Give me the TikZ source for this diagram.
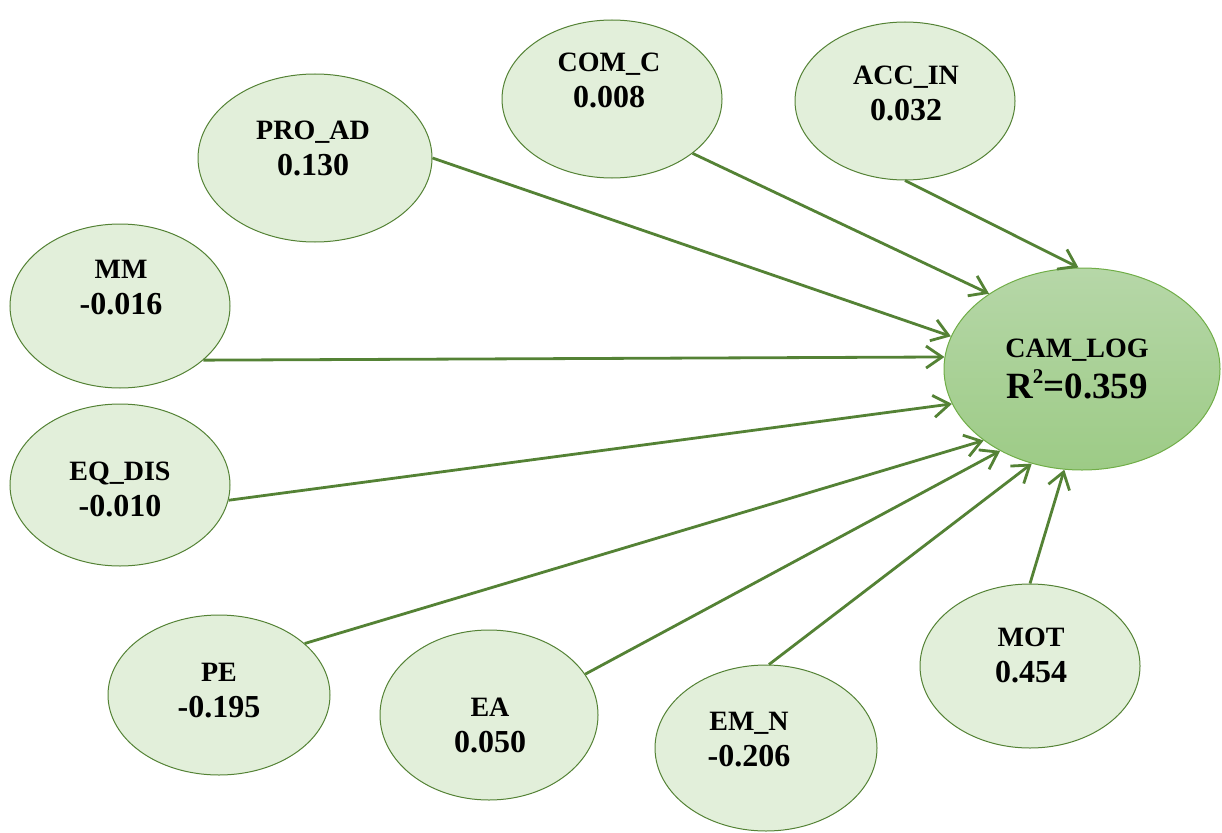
\documentclass[tikz,border=0pt]{standalone}
\usepackage{fontspec}
\setmainfont{Liberation Serif}
\usetikzlibrary{shapes.geometric,arrows.meta}
\definecolor{nodefill}{HTML}{E2EFDA}
\definecolor{nodeline}{HTML}{548235}
\definecolor{arrcol}{HTML}{548235}
\definecolor{camtop}{HTML}{B6D7A8}
\definecolor{cambot}{HTML}{9DCB86}
\definecolor{camline}{HTML}{70AD47}
\newcommand{\twolines}[2]{{\fontsize{28}{34}\selectfont #1}\\{\fontsize{32}{36}\selectfont #2}}
\begin{document}
\begin{tikzpicture}[x=1pt,y=-1pt,
  latent/.style={ellipse, draw=nodeline, line width=1pt, fill=nodefill, inner sep=0pt},
  lbl/.style={align=center, font=\fontsize{32}{36}\selectfont\bfseries, text=black, inner sep=0pt},
  conn/.style={draw=arrcol, line width=2.8pt, -{Straight Barb[length=16pt,width=22pt]}}]
\useasboundingbox (0,0) rectangle (1222,832);
% ellipses
\node[latent, minimum width=220pt, minimum height=158pt] (comc) at (612,99) {};
\node[latent, minimum width=220pt, minimum height=158pt] (accin) at (905,101) {};
\node[latent, minimum width=234pt, minimum height=168pt] (proad) at (315,158) {};
\node[latent, minimum width=220pt, minimum height=164pt] (mm) at (120,306) {};
\node[latent, minimum width=220pt, minimum height=162pt] (eqdis) at (120,485) {};
\node[latent, minimum width=222pt, minimum height=160pt] (pe) at (219,695) {};
\node[latent, minimum width=218pt, minimum height=170pt] (ea) at (489,715) {};
\node[latent, minimum width=222pt, minimum height=166pt] (emn) at (766,748) {};
\node[latent, minimum width=220pt, minimum height=164pt] (mot) at (1030,666) {};
\node[ellipse, draw=camline, line width=1pt, top color=camtop, bottom color=cambot, inner sep=0pt,
      minimum width=276pt, minimum height=202pt] (cam) at (1082,369) {};
% labels
\node[lbl] (tcomc) at (609,80) {\twolines{COM\_C}{0.008}};
\node[lbl] (taccin) at (906,93) {\twolines{ACC\_IN}{0.032}};
\node[lbl] (tproad) at (313,148) {\twolines{PRO\_AD}{0.130}};
\node[lbl] (tmm) at (121,288) {\twolines{MM}{-0.016}};
\node[lbl] (teqdis) at (120,489) {\twolines{EQ\_DIS}{-0.010}};
\node[lbl] (tpe) at (219,691) {\twolines{PE}{-0.195}};
\node[lbl] (tea) at (490,725) {\twolines{EA}{0.050}};
\node[lbl] (temn) at (749,740) {\twolines{EM\_N}{-0.206}};
\node[lbl] (tmot) at (1031,655) {\twolines{MOT}{0.454}};
\node[lbl, font=\fontsize{37}{41}\selectfont\bfseries] (tcam) at (1077,369)
  {{\fontsize{28}{34}\selectfont CAM\_LOG}\\R\raisebox{15pt}{\fontsize{21}{21}\selectfont 2}=0.359};
% connectors
\draw[conn] (proad.-0.5) -- (cam.166.3);
\draw[conn] (comc.-34.2) -- (cam.141.6);
\draw[conn] (accin.-90) -- (cam.92.3);
\draw[conn] (mm.-33) -- (cam.175.4);
\draw[conn] (eqdis.-8.6) -- (cam.195.3);
\draw[conn] (pe.31.7) -- (cam.216.2);
\draw[conn] (ea.23.4) -- (cam.225.3);
\draw[conn] (emn.88) -- (cam.242.8);
\draw[conn] (mot.90) -- (cam.260.4);
\end{tikzpicture}
\end{document}
